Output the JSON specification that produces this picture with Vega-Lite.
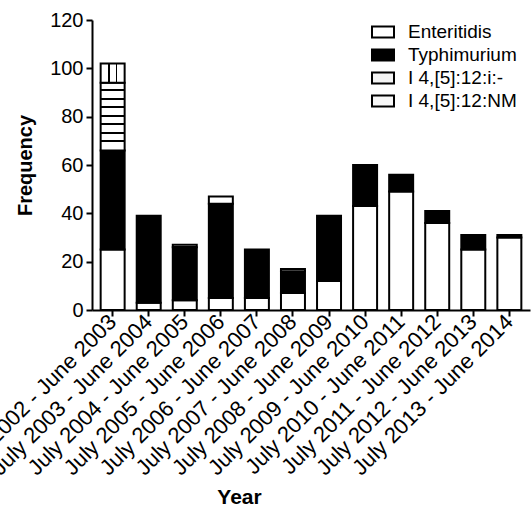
{
  "$schema": "https://vega.github.io/schema/vega-lite/v6.json",
  "autosize": "none",
  "width": 438,
  "height": 290,
  "padding": {"left": 92, "top": 20, "right": 1, "bottom": 200},
  "background": "white",
  "config": {
    "view": {"stroke": null},
    "font": "Liberation Sans",
    "axis": {"grid": false, "domainColor": "black", "domainWidth": 2, "tickColor": "black", "tickWidth": 2, "tickSize": 6, "labelColor": "black", "titleColor": "black", "labelFont": "Liberation Sans", "titleFont": "Liberation Sans"}
  },
  "data": {
    "values": [
      {"year": "July 2002 - June 2003", "serotype": "Enteritidis", "count": 25},
      {"year": "July 2002 - June 2003", "serotype": "Typhimurium", "count": 41},
      {"year": "July 2002 - June 2003", "serotype": "I 4,[5]:12:i:-", "count": 28},
      {"year": "July 2002 - June 2003", "serotype": "I 4,[5]:12:NM", "count": 8},
      {"year": "July 2003 - June 2004", "serotype": "Enteritidis", "count": 3},
      {"year": "July 2003 - June 2004", "serotype": "Typhimurium", "count": 36},
      {"year": "July 2004 - June 2005", "serotype": "Enteritidis", "count": 4},
      {"year": "July 2004 - June 2005", "serotype": "Typhimurium", "count": 22},
      {"year": "July 2004 - June 2005", "serotype": "I 4,[5]:12:i:-", "count": 1},
      {"year": "July 2005 - June 2006", "serotype": "Enteritidis", "count": 5},
      {"year": "July 2005 - June 2006", "serotype": "Typhimurium", "count": 39},
      {"year": "July 2005 - June 2006", "serotype": "I 4,[5]:12:i:-", "count": 3},
      {"year": "July 2006 - June 2007", "serotype": "Enteritidis", "count": 5},
      {"year": "July 2006 - June 2007", "serotype": "Typhimurium", "count": 20},
      {"year": "July 2007 - June 2008", "serotype": "Enteritidis", "count": 7},
      {"year": "July 2007 - June 2008", "serotype": "Typhimurium", "count": 9},
      {"year": "July 2007 - June 2008", "serotype": "I 4,[5]:12:i:-", "count": 1},
      {"year": "July 2008 - June 2009", "serotype": "Enteritidis", "count": 12},
      {"year": "July 2008 - June 2009", "serotype": "Typhimurium", "count": 27},
      {"year": "July 2009 - June 2010", "serotype": "Enteritidis", "count": 43},
      {"year": "July 2009 - June 2010", "serotype": "Typhimurium", "count": 17},
      {"year": "July 2010 - June 2011", "serotype": "Enteritidis", "count": 49},
      {"year": "July 2010 - June 2011", "serotype": "Typhimurium", "count": 7},
      {"year": "July 2011 - June 2012", "serotype": "Enteritidis", "count": 36},
      {"year": "July 2011 - June 2012", "serotype": "Typhimurium", "count": 5},
      {"year": "July 2012 - June 2013", "serotype": "Enteritidis", "count": 25},
      {"year": "July 2012 - June 2013", "serotype": "Typhimurium", "count": 6},
      {"year": "July 2013 - June 2014", "serotype": "Enteritidis", "count": 30},
      {"year": "July 2013 - June 2014", "serotype": "Typhimurium", "count": 1}
    ]
  },
  "transform": [
    {"calculate": "indexof(['Enteritidis','Typhimurium','I 4,[5]:12:i:-','I 4,[5]:12:NM'], datum.serotype)", "as": "stackOrder"}
  ],
  "mark": {"type": "bar", "stroke": "black", "strokeWidth": 2, "strokeJoin": "miter"},
  "encoding": {
    "x": {
      "field": "year", "type": "nominal", "sort": null,
      "scale": {"paddingInner": 0.335, "paddingOuter": 0.24},
      "axis": {"title": "Year", "titleFontSize": 21, "titleFontWeight": "bold", "titleX": 147, "labelFontSize": 22, "labelAngle": -45, "labelAlign": "right", "labelBaseline": "middle", "labelPadding": 2, "titlePadding": 8, "labelLimit": 400}
    },
    "y": {
      "field": "count", "type": "quantitative", "aggregate": "sum", "stack": "zero",
      "scale": {"domain": [0, 120], "nice": false},
      "axis": {"title": "Frequency", "titleFontSize": 20, "titleFontWeight": "bold", "labelFontSize": 20, "values": [0, 20, 40, 60, 80, 100, 120], "labelPadding": 3, "titlePadding": 14}
    },
    "order": {"field": "stackOrder", "type": "quantitative", "sort": "ascending"},
    "fill": {
      "field": "serotype", "type": "nominal",
      "scale": {
        "domain": ["Enteritidis", "Typhimurium", "I 4,[5]:12:i:-", "I 4,[5]:12:NM"],
        "range": ["white", "black", "#f4f4f4", "#f8f8f8"]
      },
      "condition": [
        {"test": "datum.serotype === 'I 4,[5]:12:i:-'", "value": {"gradient": "linear", "x1": 0, "y1": 0, "x2": 0, "y2": 1, "stops": [
            {"offset": 0, "color": "white"},
            {"offset": 0.095, "color": "white"}, {"offset": 0.095, "color": "black"}, {"offset": 0.125, "color": "black"}, {"offset": 0.125, "color": "white"},
            {"offset": 0.22, "color": "white"}, {"offset": 0.22, "color": "black"}, {"offset": 0.25, "color": "black"}, {"offset": 0.25, "color": "white"},
            {"offset": 0.345, "color": "white"}, {"offset": 0.345, "color": "black"}, {"offset": 0.375, "color": "black"}, {"offset": 0.375, "color": "white"},
            {"offset": 0.47, "color": "white"}, {"offset": 0.47, "color": "black"}, {"offset": 0.5, "color": "black"}, {"offset": 0.5, "color": "white"},
            {"offset": 0.595, "color": "white"}, {"offset": 0.595, "color": "black"}, {"offset": 0.625, "color": "black"}, {"offset": 0.625, "color": "white"},
            {"offset": 0.72, "color": "white"}, {"offset": 0.72, "color": "black"}, {"offset": 0.75, "color": "black"}, {"offset": 0.75, "color": "white"},
            {"offset": 0.845, "color": "white"}, {"offset": 0.845, "color": "black"}, {"offset": 0.875, "color": "black"}, {"offset": 0.875, "color": "white"},
            {"offset": 1, "color": "white"}
          ]}},
        {"test": "datum.serotype === 'I 4,[5]:12:NM'", "value": {"gradient": "linear", "x1": 0, "y1": 0, "x2": 1, "y2": 0, "stops": [
            {"offset": 0, "color": "white"},
            {"offset": 0.31, "color": "white"}, {"offset": 0.31, "color": "black"}, {"offset": 0.37, "color": "black"}, {"offset": 0.37, "color": "white"},
            {"offset": 0.64, "color": "white"}, {"offset": 0.64, "color": "black"}, {"offset": 0.7, "color": "black"}, {"offset": 0.7, "color": "white"},
            {"offset": 1, "color": "white"}
          ]}}
      ],
      "legend": {
        "title": null, "orient": "none", "legendX": 279, "legendY": 0, "padding": 0,
        "symbolType": "M-1,-0.5H1V0.5H-1Z", "symbolSize": 484, "symbolStrokeColor": "black", "symbolStrokeWidth": 2,
        "labelFontSize": 19, "labelColor": "black", "labelFont": "Liberation Sans", "labelOffset": 13, "rowPadding": 1, "labelLimit": 300,
        "encoding": {
          "symbols": {
            "stroke": {"value": "black"},
            "strokeWidth": {"value": 2},
            "fill": {
              "condition": [
                {"test": "datum.label === 'Typhimurium'", "value": "black"},
                {"test": "datum.label === 'I 4,[5]:12:i:-'", "value": {"gradient": "linear", "x1": 0, "y1": 0, "x2": 0, "y2": 1, "stops": [
                  {"offset": 0, "color": "white"},
                  {"offset": 0.25, "color": "white"}, {"offset": 0.25, "color": "black"}, {"offset": 0.37, "color": "black"}, {"offset": 0.37, "color": "white"},
                  {"offset": 0.6, "color": "white"}, {"offset": 0.6, "color": "black"}, {"offset": 0.72, "color": "black"}, {"offset": 0.72, "color": "white"},
                  {"offset": 1, "color": "white"}
                ]}},
                {"test": "datum.label === 'I 4,[5]:12:NM'", "value": {"gradient": "linear", "x1": 0, "y1": 0, "x2": 1, "y2": 0, "stops": [
                  {"offset": 0, "color": "white"},
                  {"offset": 0.24, "color": "white"}, {"offset": 0.24, "color": "black"}, {"offset": 0.3, "color": "black"}, {"offset": 0.3, "color": "white"},
                  {"offset": 0.48, "color": "white"}, {"offset": 0.48, "color": "black"}, {"offset": 0.54, "color": "black"}, {"offset": 0.54, "color": "white"},
                  {"offset": 0.72, "color": "white"}, {"offset": 0.72, "color": "black"}, {"offset": 0.78, "color": "black"}, {"offset": 0.78, "color": "white"},
                  {"offset": 1, "color": "white"}
                ]}}
              ],
              "value": "white"
            }
          }
        }
      }
    }
  }
}
